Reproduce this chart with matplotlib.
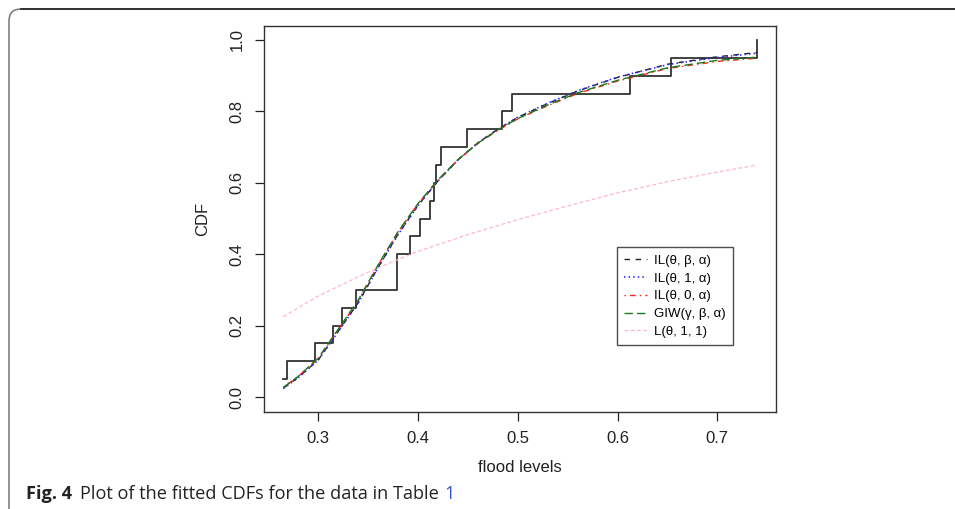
import matplotlib
matplotlib.use("Agg")
from matplotlib import pyplot as plt
from matplotlib import patches as mpatches
from matplotlib.transforms import IdentityTransform

# flood levels (sorted) and empirical CDF levels
flood = [0.265, 0.269, 0.297, 0.315, 0.3235, 0.338, 0.379, 0.379, 0.392, 0.402,
         0.412, 0.416, 0.418, 0.423, 0.449, 0.484, 0.494, 0.613, 0.654, 0.740]
ecdf = [0.05, 0.10, 0.15, 0.20, 0.25, 0.30, 0.35, 0.40, 0.45, 0.50,
        0.55, 0.60, 0.65, 0.70, 0.75, 0.80, 0.85, 0.90, 0.95, 1.00]

# fitted CDFs
x_fit = [0.265, 0.28, 0.30, 0.32, 0.34, 0.36, 0.38, 0.40, 0.42, 0.44,
         0.46, 0.48, 0.50, 0.53, 0.56, 0.60, 0.65, 0.70, 0.74]
cdf_il = [0.025, 0.055, 0.104, 0.184, 0.264, 0.363, 0.456, 0.537, 0.605, 0.664,
          0.712, 0.750, 0.783, 0.822, 0.857, 0.895, 0.932, 0.953, 0.965]
cdf_il1 = [0.024, 0.054, 0.103, 0.183, 0.263, 0.362, 0.455, 0.536, 0.605, 0.664,
           0.712, 0.750, 0.784, 0.823, 0.858, 0.896, 0.931, 0.951, 0.963]
cdf_il0 = [0.027, 0.058, 0.108, 0.188, 0.270, 0.369, 0.462, 0.541, 0.607, 0.664,
           0.710, 0.747, 0.779, 0.816, 0.850, 0.885, 0.920, 0.940, 0.949]
cdf_giw = [0.027, 0.058, 0.109, 0.190, 0.271, 0.370, 0.463, 0.542, 0.608, 0.665,
           0.711, 0.748, 0.780, 0.818, 0.852, 0.887, 0.922, 0.943, 0.952]
x_l = [0.265, 0.30, 0.35, 0.40, 0.45, 0.50, 0.55, 0.60, 0.65, 0.70, 0.74]
cdf_l = [0.225, 0.283, 0.350, 0.408, 0.455, 0.497, 0.535, 0.572, 0.603, 0.630, 0.650]

labels = ["IL(θ, β, α)", "IL(θ, 1, α)", "IL(θ, 0, α)", "GIW(γ, β, α)", "L(θ, 1, 1)"]

plt.rcParams["font.family"] = ["Liberation Sans", "DejaVu Sans"]

fig = plt.figure(figsize=(9.55, 5.09), dpi=100)
ax = fig.add_axes([0.2761, 0.1912, 0.5368, 0.7583])

ax.plot(flood, ecdf, drawstyle="steps-post", color="#333333", lw=1.3)
ax.plot(x_fit, cdf_il, color="#222222", lw=1.0, ls=(0, (4, 4)), label=labels[0])
ax.plot(x_fit, cdf_il1, color="#2222ff", lw=1.1, ls=(0, (1, 2)), label=labels[1])
ax.plot(x_fit, cdf_il0, color="#ff2020", lw=1.0, ls=(0, (1, 3, 4, 3)), label=labels[2])
ax.plot(x_fit, cdf_giw, color="#1a7a1a", lw=1.0, ls=(0, (6, 3)), label=labels[3])
ax.plot(x_l, cdf_l, color="#ffb6c8", lw=0.9, ls=(0, (3, 2)), label=labels[4])

ax.set_xlim(0.2453, 0.7592)
ax.set_ylim(-0.041, 1.04)
ax.set_xticks([0.3, 0.4, 0.5, 0.6, 0.7])
ax.set_xticklabels(["0.3", "0.4", "0.5", "0.6", "0.7"])
ax.set_yticks([0.0, 0.2, 0.4, 0.6, 0.8, 1.0])
ax.set_yticklabels(["0.0", "0.2", "0.4", "0.6", "0.8", "1.0"])
for lab in ax.get_yticklabels():
    lab.set_rotation(90)
    lab.set_va("center")
ax.tick_params(length=6.8, width=0.9, colors="#222222", labelsize=12, pad=7)
for sp in ax.spines.values():
    sp.set_linewidth(1.0)
    sp.set_color("#333333")

ax.set_xlabel("flood levels", fontsize=12, labelpad=10, color="#222222")
ax.set_ylabel("CDF", fontsize=12, labelpad=14, color="#222222")

leg = ax.legend(loc="upper left", bbox_to_anchor=(0.6887, 0.4259), borderaxespad=0,
                fontsize=9.5, frameon=True, fancybox=False, edgecolor="#222222",
                handlelength=1.75, handletextpad=0.5, labelspacing=0.42, borderpad=0.55)
leg.get_frame().set_linewidth(1.0)

# page frame
frame = mpatches.FancyBboxPatch((9, -20), 980, 520,
                                boxstyle="round,pad=0,rounding_size=12",
                                transform=IdentityTransform(), fill=False,
                                edgecolor="#777777", lw=1.1)
fig.add_artist(frame)
fig.add_artist(plt.Line2D([21, 955], [500, 500], transform=IdentityTransform(),
                          color="#222222", lw=1.2))

# caption
t1 = fig.text(26 / 955, 1 - 499 / 509, "Fig. 4", fontsize=13.1, fontweight="bold",
              family="Open Sans", va="baseline", color="#222222")
t2 = ax.annotate("Plot of the fitted CDFs for the data in Table", xy=(1, 0), xycoords=t1,
                 xytext=(6, 0), textcoords="offset points", fontsize=13.1,
                 family="Open Sans", va="bottom", color="#222222")
ax.annotate("1", xy=(1, 0), xycoords=t2, xytext=(3.5, 0), textcoords="offset points",
            fontsize=13.1, family="Open Sans", va="bottom", color="#3355cc")

fig.savefig("out.png", dpi=100)
